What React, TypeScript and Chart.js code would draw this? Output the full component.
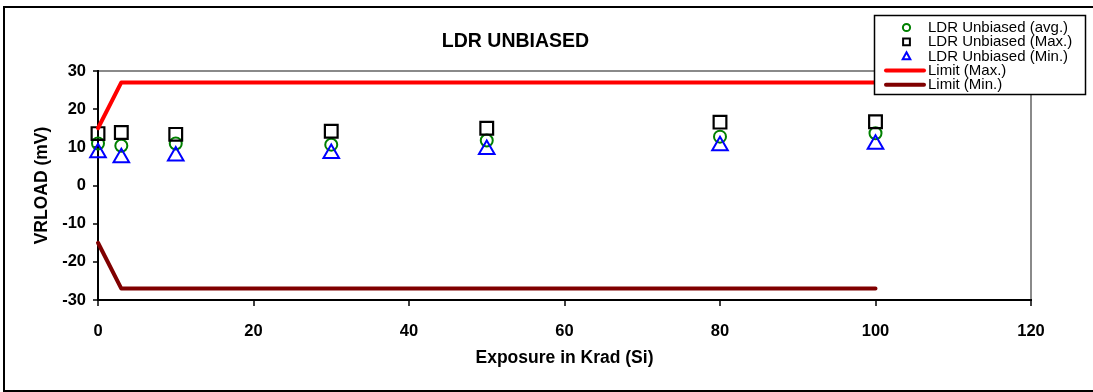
import React, { useEffect, useRef } from 'react';
import { Chart, registerables } from 'chart.js';

Chart.register(...registerables);

// ---- Data ----
const exposure = [0, 3, 10, 30, 50, 80, 100];
const avgValues = [11.0, 10.4, 11.0, 10.7, 11.8, 12.8, 13.7];
const maxValues = [13.6, 13.9, 13.4, 14.2, 15.0, 16.6, 16.7];
const minValues = [8.6, 7.3, 7.7, 8.4, 9.4, 10.4, 10.8];
const limitExposure = [0, 3, 100];
const limitMaxValues = [15, 27, 27];
const limitMinValues = [-15, -27, -27];
const xTickValues = [0, 20, 40, 60, 80, 100, 120];
const yTickValues = [-30, -20, -10, 0, 10, 20, 30];

const seriesLabels = [
  'LDR Unbiased (avg.)',
  'LDR Unbiased (Max.)',
  'LDR Unbiased (Min.)',
  'Limit (Max.)',
  'Limit (Min.)',
];

const FONT = "'Liberation Sans', Arial, Helvetica, sans-serif";

const toPoints = (xs: number[], ys: number[]) => xs.map((x, i) => ({ x, y: ys[i] }));

function drawMarker(ctx: CanvasRenderingContext2D, style: string, x: number, y: number, r: number) {
  ctx.beginPath();
  if (style === 'circle') {
    ctx.arc(x, y, r, 0, Math.PI * 2);
  } else if (style === 'rect') {
    ctx.rect(x - r, y - r, 2 * r, 2 * r);
  } else if (style === 'triangle') {
    ctx.moveTo(x, y - r);
    ctx.lineTo(x + r, y + r * 0.8);
    ctx.lineTo(x - r, y + r * 0.8);
    ctx.closePath();
  }
  ctx.stroke();
}

const framePlugin = {
  id: 'frameAndLegend',
  beforeDraw(chart: any) {
    const ctx = chart.ctx as CanvasRenderingContext2D;
    ctx.save();
    ctx.fillStyle = '#ffffff';
    ctx.fillRect(0, 0, chart.width, chart.height);
    ctx.restore();
  },
  afterDraw(chart: any) {
    const ctx = chart.ctx as CanvasRenderingContext2D;
    ctx.save();
    // outer frame
    ctx.strokeStyle = '#000';
    ctx.lineWidth = 2;
    ctx.strokeRect(4, 7, chart.width + 10, 384);

    // legend box
    const bx = 874, by = 15, bw = 211, bh = 79;
    ctx.fillStyle = '#fff';
    ctx.fillRect(bx, by, bw, bh);
    ctx.strokeStyle = '#000';
    ctx.lineWidth = 1.5;
    ctx.strokeRect(bx + 0.5, by + 0.5, bw, bh);

    ctx.font = `15px ${FONT}`;
    ctx.textBaseline = 'middle';
    ctx.textAlign = 'left';
    chart.data.datasets.forEach((ds: any, i: number) => {
      const y = 27.5 + i * 14.3;
      if (ds.showLine) {
        ctx.strokeStyle = ds.borderColor;
        ctx.lineWidth = 4;
        ctx.lineCap = 'round';
        ctx.beginPath();
        ctx.moveTo(886, y);
        ctx.lineTo(924, y);
        ctx.stroke();
      } else {
        ctx.strokeStyle = ds.pointBorderColor;
        ctx.lineWidth = 2;
        ctx.lineCap = 'butt';
        const r = ds.pointStyle === 'circle' ? 3.6 : ds.pointStyle === 'rect' ? 3.4 : 3.8;
        drawMarker(ctx, ds.pointStyle, 906.5, y, r);
      }
      ctx.fillStyle = '#000';
      ctx.fillText(ds.label, 928, y + 0.5);
    });
    ctx.restore();
  },
};

export default function App() {
  const canvasRef = useRef<HTMLCanvasElement | null>(null);

  useEffect(() => {
    const prevMargin = document.body.style.margin;
    document.body.style.margin = '0';
    const canvas = canvasRef.current;
    if (!canvas) return;

    const markerCommon = {
      showLine: false,
      clip: false,
      backgroundColor: 'rgba(0,0,0,0)',
      pointBackgroundColor: 'rgba(0,0,0,0)',
    };

    const chart = new Chart(canvas, {
      type: 'scatter',
      data: {
        datasets: [
          {
            ...markerCommon,
            label: seriesLabels[0],
            data: toPoints(exposure, avgValues),
            borderColor: '#008000',
            pointBorderColor: '#008000',
            pointStyle: 'circle',
            pointRadius: 6,
            pointBorderWidth: 2,
            order: 5,
          },
          {
            ...markerCommon,
            label: seriesLabels[1],
            data: toPoints(exposure, maxValues),
            borderColor: '#000000',
            pointBorderColor: '#000000',
            pointStyle: 'rect',
            pointRadius: 9,
            pointBorderWidth: 2.2,
            order: 4,
          },
          {
            ...markerCommon,
            label: seriesLabels[2],
            data: toPoints(exposure, minValues),
            borderColor: '#0000ff',
            pointBorderColor: '#0000ff',
            pointStyle: 'triangle',
            pointRadius: 9,
            pointBorderWidth: 2,
            order: 3,
          },
          {
            label: seriesLabels[3],
            data: toPoints(limitExposure, limitMaxValues),
            showLine: true,
            clip: false,
            borderColor: '#ff0000',
            backgroundColor: '#ff0000',
            borderWidth: 4,
            borderCapStyle: 'round',
            borderJoinStyle: 'round',
            pointRadius: 0,
            tension: 0,
            order: 2,
          },
          {
            label: seriesLabels[4],
            data: toPoints(limitExposure, limitMinValues),
            showLine: true,
            clip: false,
            borderColor: '#800000',
            backgroundColor: '#800000',
            borderWidth: 4,
            borderCapStyle: 'round',
            borderJoinStyle: 'round',
            pointRadius: 0,
            tension: 0,
            order: 1,
          },
        ] as any,
      },
      options: {
        responsive: false,
        animation: false,
        events: [],
        layout: { padding: { left: 0, right: 62, top: 0, bottom: 0 } },
        plugins: {
          legend: { display: false },
          tooltip: { enabled: false },
          title: {
            display: true,
            text: 'LDR UNBIASED',
            color: '#000',
            font: { family: FONT, size: 19.5, weight: 'bold' },
            padding: { top: 30.3, bottom: 17.3 },
          },
        },
        scales: {
          x: {
            type: 'linear',
            min: xTickValues[0],
            max: xTickValues[xTickValues.length - 1],
            afterBuildTicks: (s: any) => {
              s.ticks = xTickValues.map((v) => ({ value: v }));
            },
            afterFit: (s: any) => {
              s.height = 92;
            },
            ticks: {
              color: '#000',
              font: { family: FONT, size: 16.5, weight: 'bold' },
              padding: 16,
              maxRotation: 0,
              autoSkip: false,
            },
            grid: {
              color: (c: any) => (c.tick && c.tick.value === 120 ? '#8a8a8a' : 'rgba(0,0,0,0)'),
              lineWidth: 2,
              tickColor: '#000',
              tickLength: 6,
              tickWidth: 1.5,
            },
            border: { color: '#000', width: 2 },
            title: {
              display: true,
              text: 'Exposure in Krad (Si)',
              color: '#000',
              font: { family: FONT, size: 17.5, weight: 'bold' },
              padding: { top: 0, bottom: 23 },
            },
          },
          y: {
            type: 'linear',
            min: yTickValues[0],
            max: yTickValues[yTickValues.length - 1],
            afterBuildTicks: (s: any) => {
              s.ticks = yTickValues.map((v) => ({ value: v }));
            },
            afterFit: (s: any) => {
              s.width = 98;
            },
            ticks: {
              color: '#000',
              font: { family: FONT, size: 16.5, weight: 'bold' },
              padding: 7,
              autoSkip: false,
            },
            grid: {
              color: (c: any) => (c.tick && c.tick.value === 30 ? '#8a8a8a' : 'rgba(0,0,0,0)'),
              lineWidth: 2,
              tickColor: '#000',
              tickLength: 5,
              tickWidth: 1.5,
            },
            border: { color: '#000', width: 2 },
            title: {
              display: true,
              text: 'VRLOAD (mV)',
              color: '#000',
              font: { family: FONT, size: 17.5, weight: 'bold' },
              padding: { top: 32, bottom: 0 },
            },
          },
        },
      } as any,
      plugins: [framePlugin],
    });

    return () => {
      chart.destroy();
      document.body.style.margin = prevMargin;
    };
  }, []);

  return (
    <div style={{ width: 1093, height: 392 }}>
      <canvas ref={canvasRef} width={1093} height={392} style={{ display: 'block' }} />
    </div>
  );
}
